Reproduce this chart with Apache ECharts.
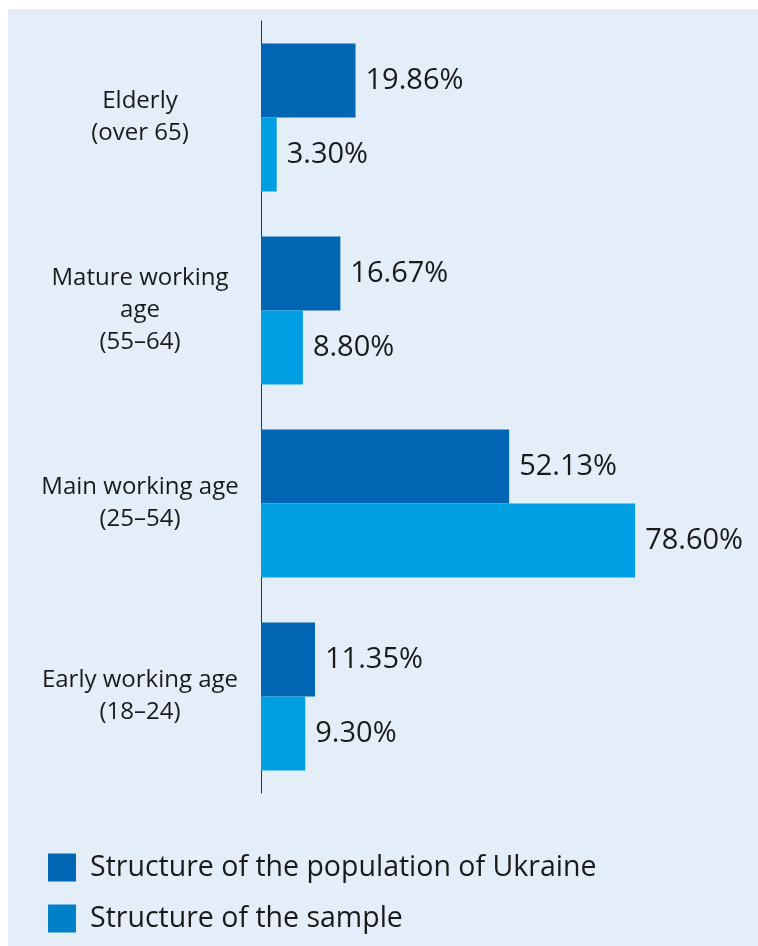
<!DOCTYPE html>
<html>
<head>
<meta charset="utf-8">
<script src="https://cdn.jsdelivr.net/npm/echarts@6/dist/echarts.min.js"></script>
<style>
  html, body { margin: 0; padding: 0; background: #ffffff; }
  #chart { width: 758px; height: 946px; }
</style>
</head>
<body>
<div id="chart"></div>
<script>
// Age groups, top to bottom
const categories = [
  'Elderly\n(over 65)',
  'Mature working\nage\n(55–64)',
  'Main working age\n(25–54)',
  'Early working age\n(18–24)'
];
// Share of each age group, %
const populationShare = [19.86, 16.67, 52.13, 11.35];
const sampleShare = [3.30, 8.80, 78.60, 9.30];
const seriesNames = ['Structure of the population of Ukraine', 'Structure of the sample'];

const FONT = '"Open Sans", Lato, sans-serif';
const TEXT = '#1a1a1a';

const chart = echarts.init(document.getElementById('chart'), null, { renderer: 'canvas' });

const valueLabel = {
  show: true,
  position: 'right',
  distance: 10,
  fontFamily: FONT,
  fontSize: 29,
  color: TEXT,
  formatter: p => p.value.toFixed(2) + '%'
};

chart.setOption({
  backgroundColor: '#ffffff',
  animation: false,
  graphic: [{
    type: 'rect',
    left: 8, top: 9,
    shape: { width: 750, height: 937 },
    style: { fill: '#e4eef9' },
    z: -10
  }],
  grid: { left: 261, right: 21, top: 21, bottom: 153, containLabel: false },
  xAxis: {
    type: 'value', min: 0, max: 100,
    show: false
  },
  yAxis: {
    type: 'category',
    data: categories,
    inverse: true,
    axisLine: { show: true, lineStyle: { color: '#333333', width: 1 } },
    axisTick: { show: false },
    splitLine: { show: false },
    axisLabel: {
      align: 'center',
      margin: 121,
      fontFamily: FONT,
      fontSize: 24,
      lineHeight: 32,
      color: TEXT
    }
  },
  legend: {
    orient: 'vertical',
    left: 48, top: 853,
    padding: 0,
    icon: 'rect',
    itemWidth: 28, itemHeight: 28, itemGap: 22,
    textStyle: { fontFamily: FONT, fontSize: 28.5, color: TEXT, padding: [0, 0, 0, 9] },
    data: [
      { name: seriesNames[0], itemStyle: { color: '#0066b3' } },
      { name: seriesNames[1], itemStyle: { color: '#0080c8' } }
    ]
  },
  series: [
    {
      name: seriesNames[0], type: 'bar',
      data: populationShare,
      barWidth: 74, barGap: '0%',
      itemStyle: { color: '#0066b3' },
      label: valueLabel
    },
    {
      name: seriesNames[1], type: 'bar',
      data: sampleShare,
      barWidth: 74, barGap: '0%',
      itemStyle: { color: '#009fe3' },
      label: valueLabel
    }
  ]
});
</script>
</body>
</html>
